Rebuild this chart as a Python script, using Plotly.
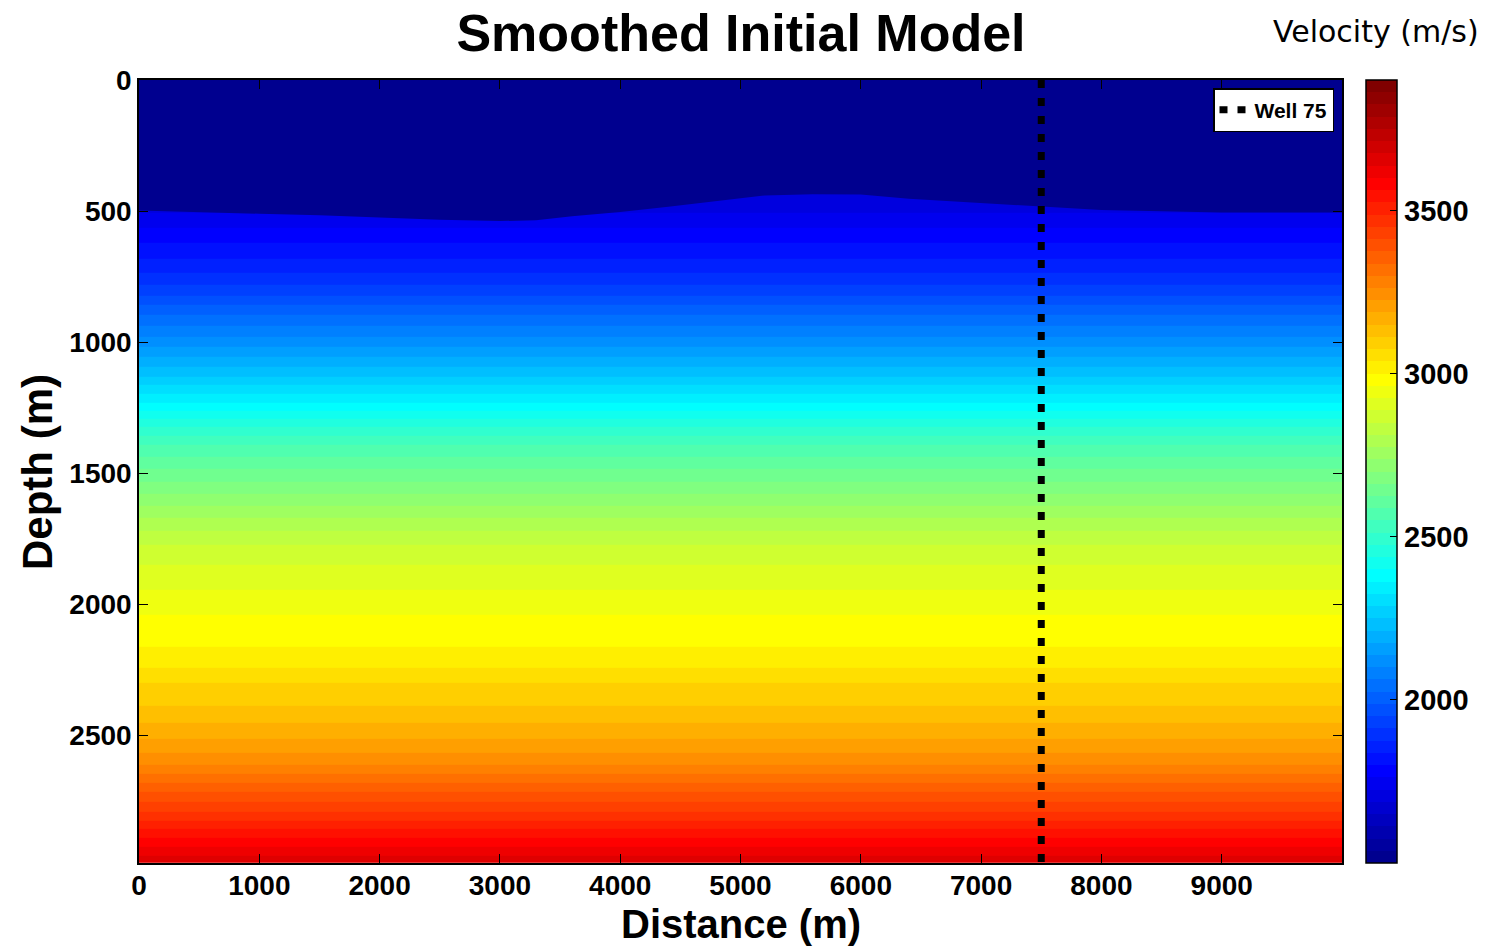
import numpy as np
import plotly.graph_objects as go

# ---------------- data ----------------
depth_m = [400, 500, 600, 700, 800, 900, 1000, 1100, 1200, 1300, 1400, 1500,
           1600, 1700, 1800, 1900, 2000, 2100, 2200, 2300, 2400, 2500, 2600,
           2700, 2800, 2900, 3000]
velocity_ms = [1720, 1720, 1790, 1850, 1930, 2030, 2120, 2220, 2330, 2450, 2560, 2640,
               2720, 2800, 2870, 2905, 2950, 2985, 3010, 3075, 3120, 3180, 3250,
               3360, 3460, 3580, 3680]
distance_extent_m = [0, 10000]

seafloor_x_m = [0, 500, 1000, 1500, 2000, 2500, 3000, 3300, 3600, 4000, 4400, 4800,
                5200, 5600, 6000, 6400, 6800, 7200, 7600, 8000, 9000, 10000]
seafloor_depth_m = [498, 503, 510, 516, 525, 533, 538, 535, 520, 503, 483, 462,
                    440, 436, 437, 453, 464, 474, 487, 496, 505, 505]
surface_depth_m = 0
water_velocity_ms = 1500

well_x_m = 7500
well_depth_m = [0, 3000]
well_name = "Well 75"

x_ticks = [0, 1000, 2000, 3000, 4000, 5000, 6000, 7000, 8000, 9000]
y_ticks = [0, 500, 1000, 1500, 2000, 2500]
cbar_ticks = [2000, 2500, 3000, 3500]

VMIN, VMAX = 1500, 3900

# ---------------- styling helpers ----------------
def jet(f):
    r = np.clip(1.5 - abs(4 * f - 3), 0, 1)
    g = np.clip(1.5 - abs(4 * f - 2), 0, 1)
    b = np.clip(1.5 - abs(4 * f - 1), 0, 1)
    return "rgb(%d,%d,%d)" % (round(r * 255), round(g * 255), round(b * 255))

N = 64
jet_colors = [jet((i + 1) / N) for i in range(N)]
colorscale = []
for i, c in enumerate(jet_colors):
    colorscale.append([i / N, c])
    colorscale.append([(i + 1) / N, c])

FONT = "Liberation Sans, Arial, sans-serif"

# plot area in pixels
W, H = 1491, 948
L, R, T, B = 139, 1342, 80, 863
pw, ph = R - L, B - T

z = [[v] * len(distance_extent_m) for v in velocity_ms]

fig = go.Figure()
fig.add_trace(go.Heatmap(
    x=distance_extent_m, y=depth_m, z=z,
    zmin=VMIN, zmax=VMAX, zsmooth="best",
    colorscale=colorscale, showscale=True,
    colorbar=dict(
        x=(1366 - L) / pw, xanchor="left", xref="paper",
        y=0.5, yanchor="middle", len=1, lenmode="fraction",
        thickness=31, thicknessmode="pixels",
        outlinewidth=1.5, outlinecolor="black",
        tickvals=cbar_ticks, ticks="inside", ticklen=7, tickcolor="black",
        tickfont=dict(family=FONT, size=29, color="black", weight="bold"),
        ypad=0, xpad=0,
    ),
    showlegend=False, hoverinfo="skip",
))

# water layer above the seafloor
fig.add_trace(go.Scatter(
    x=seafloor_x_m + [seafloor_x_m[-1], seafloor_x_m[0]],
    y=seafloor_depth_m + [surface_depth_m, surface_depth_m],
    fill="toself", fillcolor=jet_colors[0], mode="lines",
    line=dict(width=0, color=jet_colors[0]),
    showlegend=False, hoverinfo="skip",
))

# well location
fig.add_trace(go.Scatter(
    x=[well_x_m, well_x_m], y=well_depth_m, mode="lines",
    line=dict(color="black", width=7, dash="8px,10px"),
    name=well_name,
))

axis_common = dict(
    showline=True, linecolor="black", linewidth=1.5, mirror="ticks",
    ticks="inside", ticklen=9, tickcolor="black", tickwidth=1,
    showgrid=False, zeroline=False,
    tickfont=dict(family=FONT, size=28, color="black", weight="bold"),
)

fig.update_layout(
    width=W, height=H,
    margin=dict(l=L, r=W - R, t=T, b=H - B),
    paper_bgcolor="white", plot_bgcolor="white",
    xaxis=dict(range=[0, 10000], tickvals=x_ticks, ticklabelstandoff=-3, **axis_common),
    yaxis=dict(range=[2986, 0], tickvals=y_ticks, **axis_common),
    title=dict(text="Smoothed Initial Model", x=(741 - L) / pw, xref="paper",
               xanchor="center", y=1 - 33 / H, yref="container", yanchor="middle",
               font=dict(family=FONT, size=52, color="black", weight="bold")),
    legend=dict(x=(1334 - L) / pw, xanchor="right", y=1 - 8 / ph, yanchor="top",
                bgcolor="white", bordercolor="black", borderwidth=1.5,
                font=dict(family=FONT, size=21, color="black", weight="bold"),
                itemwidth=30, tracegroupgap=0),
    showlegend=True,
    annotations=[
        dict(text="Distance (m)", xref="paper", yref="paper",
             x=(741 - L) / pw, y=(B - 948) / ph, xanchor="center", yanchor="bottom",
             showarrow=False,
             font=dict(family=FONT, size=40, color="black", weight="bold")),
        dict(text="Depth (m)", xref="paper", yref="paper",
             x=(37 - L) / pw, y=(B - 472) / ph, xanchor="center", yanchor="middle",
             textangle=-90, showarrow=False,
             font=dict(family=FONT, size=42, color="black", weight="bold")),
        dict(text="Velocity (m/s)", xref="paper", yref="paper",
             x=(1376 - L) / pw, y=(B - 32) / ph, xanchor="center", yanchor="middle",
             showarrow=False,
             font=dict(family="DejaVu Sans, Verdana, sans-serif", size=30, color="black")),
    ],
)

fig.write_html("out.html")
